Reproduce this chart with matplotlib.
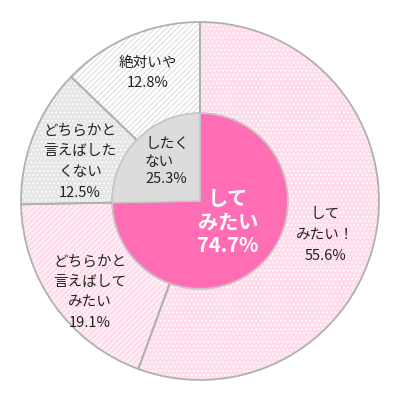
import matplotlib
matplotlib.use('Agg')
import matplotlib.pyplot as plt

plt.rcParams['font.family'] = ['Noto Sans CJK JP', 'DejaVu Sans']
plt.rcParams['hatch.linewidth'] = 0.7

# inner pie (overall answer)
inner_labels = ['して\nみたい', 'したく\nない']
inner_values = [74.7, 25.3]
inner_colors = ['#FF6EB4', '#DCDCDC']

# outer ring (detailed answer)
outer_labels = ['して\nみたい！', 'どちらかと\n言えばして\nみたい', 'どちらかと\n言えばした\nくない', '絶対いや']
outer_values = [55.6, 19.1, 12.5, 12.8]
outer_colors = ['#FFDCEB', '#FFDCEB', '#E6E6E6', '#FFFFFF']
outer_hatches = ['....', '//////', '....', '//////']
hatch_colors = ['white', 'white', 'white', '#DADADA']

# where the labels go (data units, outer radius = 1)
outer_text_pos = [(0.70, -0.19), (-0.615, -0.51), (-0.67, 0.22), (-0.29, 0.715)]
inner_text_pos = [(0.156, -0.117), (-0.307, 0.22)]

R_IN = 0.49
EDGE = '#B0B0B0'

fig = plt.figure(figsize=(4, 4.05), dpi=100)
ax = fig.add_axes([0, 0, 1, 1])

# outer ring: fill + hatch first, then edges on top
wedges, _ = ax.pie(outer_values, radius=1, colors=outer_colors, startangle=90, counterclock=False,
                   wedgeprops=dict(width=1 - R_IN, linewidth=0))
for w, h, hc in zip(wedges, outer_hatches, hatch_colors):
    w.set_hatch(h)
    w.set_edgecolor(hc)
    w.set_linewidth(0)
ax.pie(outer_values, radius=1, colors=['none'] * 4, startangle=90, counterclock=False,
       wedgeprops=dict(width=1 - R_IN, edgecolor=EDGE, linewidth=1.3, fill=False))

# inner pie
ax.pie(inner_values, radius=R_IN, colors=inner_colors, startangle=90, counterclock=False,
       wedgeprops=dict(edgecolor='#C8C8C8', linewidth=1.0))

# labels
for (x, y), lab, v in zip(outer_text_pos, outer_labels, outer_values):
    ax.text(x, y, f'{lab}\n{v}%', ha='center', va='center', fontsize=10.5,
            color='#222222', linespacing=1.6)

ax.text(inner_text_pos[0][0], inner_text_pos[0][1], f'{inner_labels[0]}\n{inner_values[0]}%',
        ha='center', va='center', fontsize=14.5, fontweight='bold', color='white', linespacing=1.15)
ax.text(inner_text_pos[1][0], inner_text_pos[1][1], f'{inner_labels[1]}\n{inner_values[1]}%',
        ha='left', va='center', fontsize=10.5, color='#222222', linespacing=1.3)

ax.set_xlim(-1.117, 1.117)
ax.set_ylim(-1.140, 1.123)
ax.set_aspect('equal')
ax.axis('off')

fig.savefig('out.png', dpi=100)
